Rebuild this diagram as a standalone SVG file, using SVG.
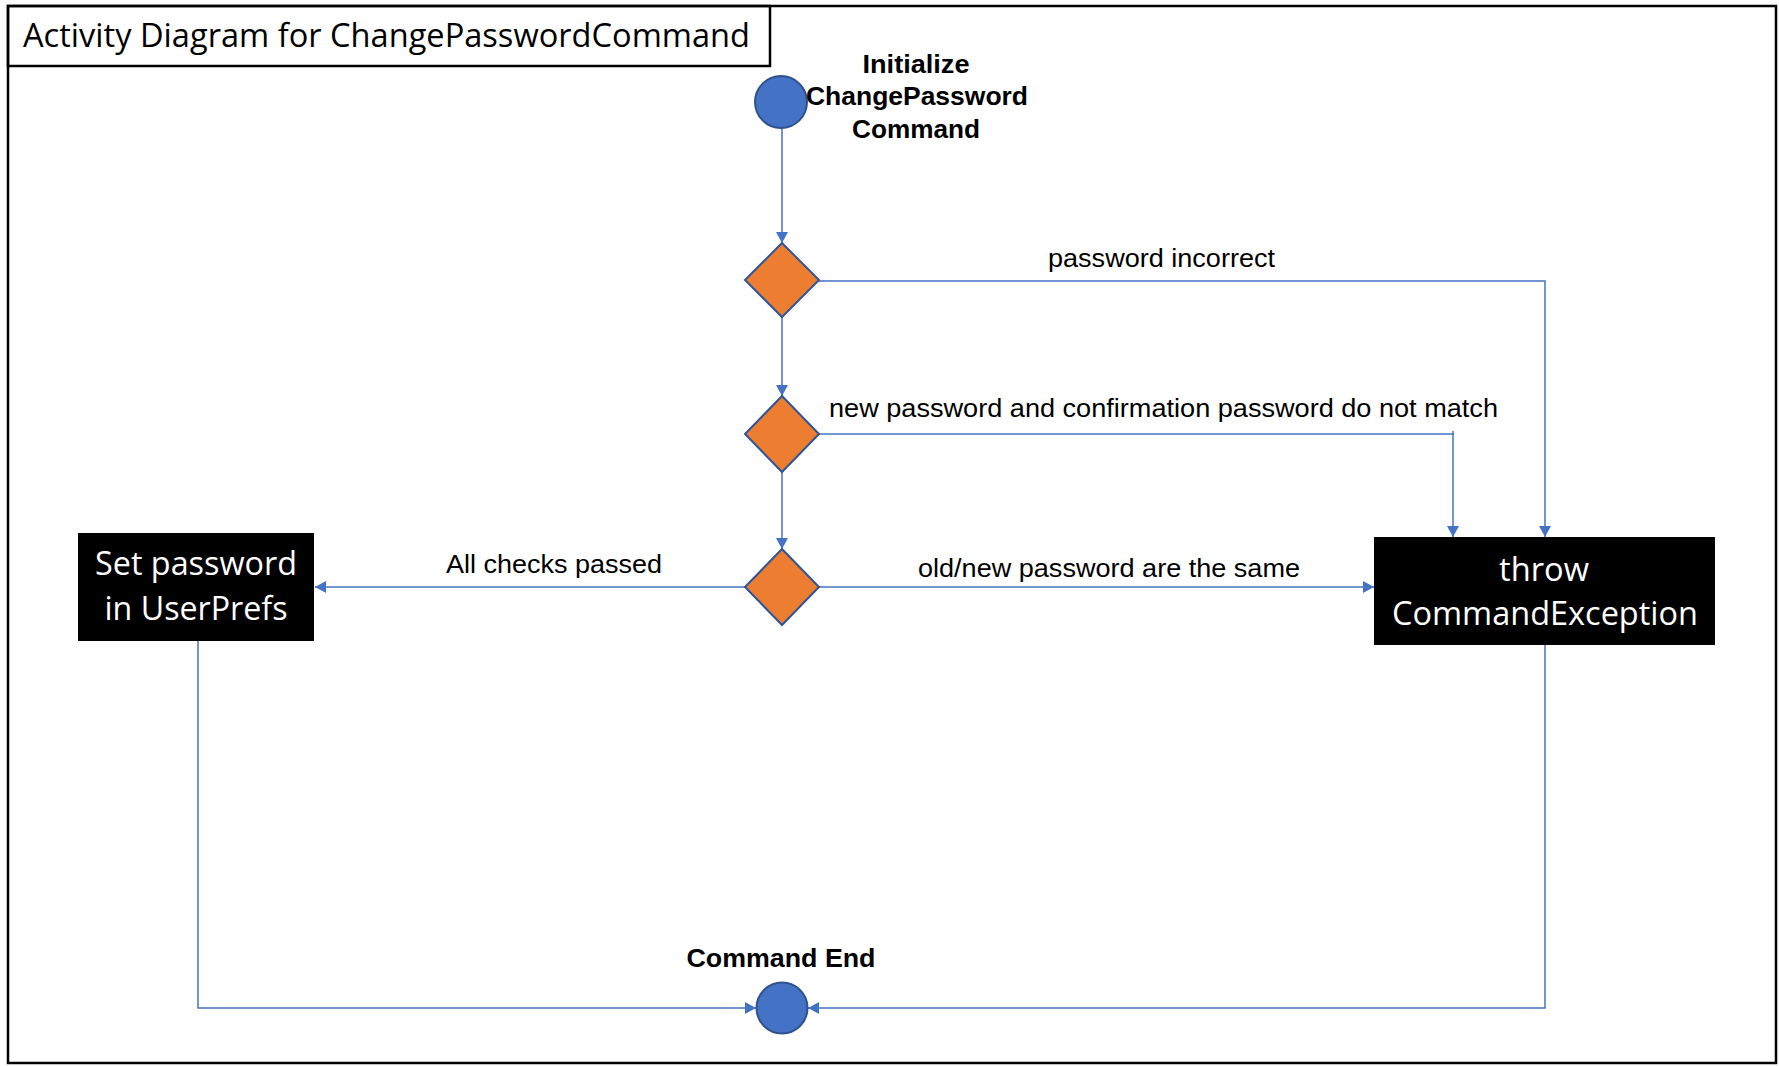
<svg xmlns="http://www.w3.org/2000/svg" width="1779" height="1066" viewBox="0 0 1779 1066">
<style>
.frame{fill:none;stroke:#000;stroke-width:2.5}
.conn{fill:none;stroke:#4472C4;stroke-width:1.5}
.dia{fill:#ED7D31;stroke:#2F5597;stroke-width:2}
.dot{fill:#4472C4;stroke:#2F528F;stroke-width:2}
.box{fill:#000}
.title{font-family:"Open Sans","Liberation Sans",sans-serif;font-size:33px;fill:#000}
.btxt{font-family:"Open Sans","Liberation Sans",sans-serif;font-size:32px;fill:#fff}
.lbl{font-family:"Liberation Sans",Arial,sans-serif;font-size:26px;fill:#000}
.bold{font-family:"Liberation Sans",Arial,sans-serif;font-size:25px;font-weight:bold;fill:#000}
</style>
<defs>
<marker id="arr" markerUnits="userSpaceOnUse" markerWidth="12" markerHeight="12" refX="11" refY="6" orient="auto">
<path d="M0,0 L11,6 L0,12 z" fill="#4472C4"/>
</marker>
</defs>
<rect width="1779" height="1066" fill="#fff"/>
<rect class="frame" x="8" y="6" width="1768" height="1057"/>
<g id="title">
<rect class="frame" x="8" y="6" width="762" height="60"/>
<text class="title" x="23" y="47" textLength="727" lengthAdjust="spacingAndGlyphs">Activity Diagram for ChangePasswordCommand</text>
</g>
<g id="connectors">
<path class="conn" d="M782,128 V243" marker-end="url(#arr)"/>
<path class="conn" d="M782,317 V396" marker-end="url(#arr)"/>
<path class="conn" d="M782,472 V549" marker-end="url(#arr)"/>
<path class="conn" d="M819,281 H1545 V537" marker-end="url(#arr)"/>
<path class="conn" d="M819,434 H1454"/>
<path class="conn" d="M1453,431 V537" marker-end="url(#arr)"/>
<path class="conn" d="M819,587 H1374" marker-end="url(#arr)"/>
<path class="conn" d="M745,587 H315" marker-end="url(#arr)"/>
<path class="conn" d="M198,641 V1008 H756" marker-end="url(#arr)"/>
<path class="conn" d="M1545,645 V1008 H808" marker-end="url(#arr)"/>
<text class="lbl" x="1048" y="267" textLength="227" lengthAdjust="spacingAndGlyphs">password incorrect</text>
<text class="lbl" x="829" y="417" textLength="669" lengthAdjust="spacingAndGlyphs">new password and confirmation password do not match</text>
<text class="lbl" x="918" y="577" textLength="382" lengthAdjust="spacingAndGlyphs">old/new password are the same</text>
<text class="lbl" x="446" y="573" textLength="216" lengthAdjust="spacingAndGlyphs">All checks passed</text>
</g>
<g id="start">
<circle class="dot" cx="781" cy="102" r="26"/>
<text class="bold" x="916" y="73" text-anchor="middle" textLength="107" lengthAdjust="spacingAndGlyphs">Initialize</text>
<text class="bold" x="917" y="105" text-anchor="middle" textLength="222" lengthAdjust="spacingAndGlyphs">ChangePassword</text>
<text class="bold" x="916" y="138" text-anchor="middle" textLength="128" lengthAdjust="spacingAndGlyphs">Command</text>
</g>
<g id="decision1"><polygon class="dia" points="782,243 819,280 782,317 745,280"/></g>
<g id="decision2"><polygon class="dia" points="782,396 819,434 782,472 745,434"/></g>
<g id="decision3"><polygon class="dia" points="782,549 819,587 782,625 745,587"/></g>
<g id="setPassword">
<rect class="box" x="78" y="533" width="236" height="108"/>
<text class="btxt" x="196" y="575" text-anchor="middle" textLength="202" lengthAdjust="spacingAndGlyphs">Set password</text>
<text class="btxt" x="196" y="620" text-anchor="middle" textLength="183" lengthAdjust="spacingAndGlyphs">in UserPrefs</text>
</g>
<g id="throwException">
<rect class="box" x="1374" y="537" width="341" height="108"/>
<text class="btxt" x="1544" y="581" text-anchor="middle" textLength="90" lengthAdjust="spacingAndGlyphs">throw</text>
<text class="btxt" x="1545" y="625" text-anchor="middle" textLength="306" lengthAdjust="spacingAndGlyphs">CommandException</text>
</g>
<g id="end">
<circle class="dot" cx="782" cy="1008" r="25.5"/>
<text class="bold" x="781" y="967" text-anchor="middle" textLength="189" lengthAdjust="spacingAndGlyphs">Command End</text>
</g>
</svg>
